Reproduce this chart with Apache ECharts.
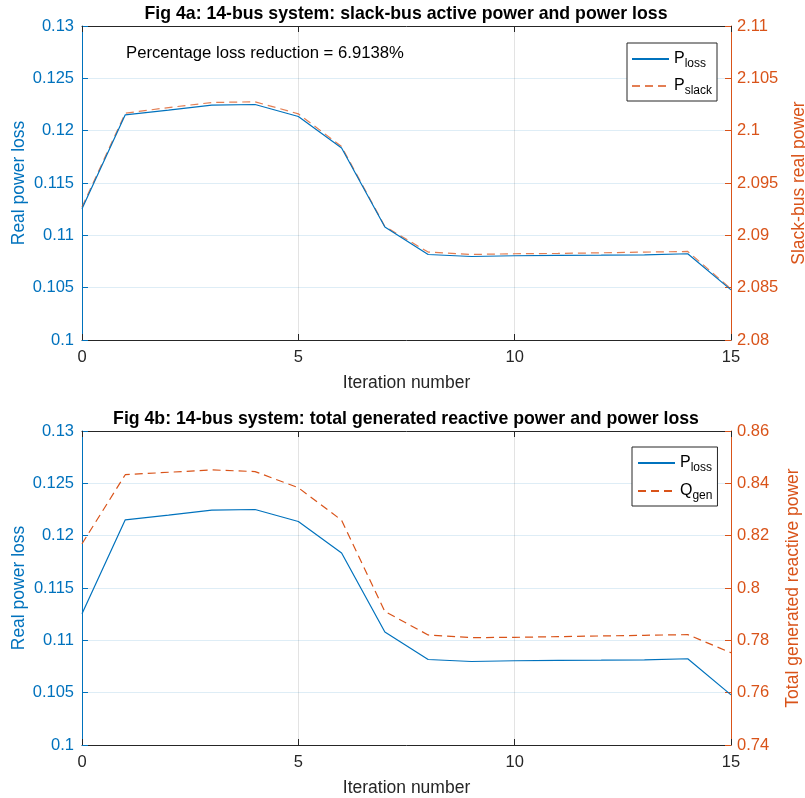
<!DOCTYPE html>
<html><head><meta charset="utf-8">
<script src="https://cdn.jsdelivr.net/npm/echarts@6/dist/echarts.min.js"></script>
<style>html,body{margin:0;padding:0;background:#fff}#c{width:805px;height:798px}</style>
</head><body><div id="c"></div>
<script>
const iterations = [0,1,2,3,4,5,6,7,8,9,10,11,12,13,14,15];
const pLoss = [0.11255,0.12151,0.12196,0.12244,0.12250,0.12135,0.11835,0.11079,0.10817,0.10798,0.10805,0.10808,0.10810,0.10814,0.10824,0.10479];
const pSlack = [2.09270,2.10167,2.10221,2.10269,2.10276,2.10161,2.09848,2.09085,2.08840,2.08817,2.08824,2.08827,2.08833,2.08840,2.08846,2.08489];
const qGen = [0.8169,0.8433,0.84423,0.84513,0.84449,0.83833,0.82590,0.79103,0.78205,0.78103,0.78115,0.78141,0.78167,0.78192,0.78218,0.77526];
const xTicks = [0,5,10,15];
const leftTicks = [0.1,0.105,0.11,0.115,0.12,0.125,0.13];
const rightTopTicks = [2.08,2.085,2.09,2.095,2.1,2.105,2.11];
const rightBotTicks = [0.74,0.76,0.78,0.8,0.82,0.84,0.86];

const BLUE = '#0072BD', ORANGE = '#D95319', DARK = '#262626';
const FONT = 'Liberation Sans, Arial, sans-serif';
const pairs = (ys) => iterations.map((x,i)=>[x, ys[i]]);
const fmt = v => String(+v.toFixed(4));

const grids = [
  {left:82, top:26, width:649, height:314, outerBoundsMode:'none', containLabel:false},
  {left:82, top:431, width:649, height:314, outerBoundsMode:'none', containLabel:false}
];

function xAx(g, top) {
  return {
    type:'value', gridIndex:g, min:xTicks[0], max:xTicks[xTicks.length-1], interval:5,
    position: top ? 'top' : 'bottom',
    name: top ? '' : 'Iteration number', nameLocation:'middle', nameGap:34, nameMoveOverlap:false,
    nameTextStyle:{color:DARK, fontSize:17.5, fontFamily:FONT},
    axisLine:{show:true, onZero:false, lineStyle:{color:DARK, width:1}},
    axisTick:{show:true, inside:true, length:6, lineStyle:{color:DARK}},
    axisLabel:{show:!top, color:DARK, fontSize:16.5, fontFamily:FONT, margin:9},
    splitLine:{show:!top, lineStyle:{color:'rgba(38,38,38,0.13)', width:1}}
  };
}
function yAx(g, right, ticks, name, color, split, gap) {
  const iv = +(ticks[1]-ticks[0]).toFixed(4);
  return {
    type:'value', gridIndex:g, min:ticks[0], max:ticks[ticks.length-1], interval:iv,
    position: right ? 'right' : 'left',
    name:name, nameLocation:'middle', nameGap: gap, nameMoveOverlap:false,
    nameTextStyle:{color:color, fontSize:17.5, fontFamily:FONT},
    axisLine:{show:true, onZero:false, lineStyle:{color:color, width:1}},
    axisTick:{show:true, inside:true, length:6, lineStyle:{color:color}},
    axisLabel:{color:color, fontSize:16.5, fontFamily:FONT, margin: right ? 6 : 8, formatter:fmt},
    splitLine:{show:split, lineStyle:{color:'rgba(0,114,189,0.13)', width:1}}
  };
}

const rich = {
  p:{fontSize:16, fontFamily:FONT, color:'#000', lineHeight:18},
  s:{fontSize:12, fontFamily:FONT, color:'#000', padding:[10,0,0,0], lineHeight:18}
};
const subName = {Ploss:'{p|P}{s|loss}', Pslack:'{p|P}{s|slack}', Qgen:'{p|Q}{s|gen}'};

const option = {
  animation:false,
  backgroundColor:'#fff',
  title:[
    {text:'Fig 4a: 14-bus system: slack-bus active power and power loss', left:406, textAlign:'center', top:5, padding:0,
     textStyle:{fontSize:17.7, fontWeight:'bold', color:'#000', fontFamily:FONT}},
    {text:'Fig 4b: 14-bus system: total generated reactive power and power loss', left:406, textAlign:'center', top:410, padding:0,
     textStyle:{fontSize:17.7, fontWeight:'bold', color:'#000', fontFamily:FONT}},
    {text:'Percentage loss reduction = 6.9138%', left:126, top:45, padding:0,
     textStyle:{fontSize:16.7, fontWeight:'normal', color:'#000', fontFamily:FONT}}
  ],
  grid:grids,
  legend:[
    {data:['Ploss','Pslack'], orient:'vertical', left:627, top:43,
     borderColor:DARK, borderWidth:1, padding:[5,5,4,4], itemGap:5, itemWidth:37, itemHeight:14,
     itemStyle:{opacity:0}, formatter:n=>subName[n], textStyle:{rich:rich}, backgroundColor:'#fff'},
    {data:[{name:'Ploss2'},{name:'Qgen'}], orient:'vertical', left:632, top:447,
     borderColor:DARK, borderWidth:1, padding:[5,5,4,5], itemGap:6, itemWidth:37, itemHeight:14,
     itemStyle:{opacity:0}, formatter:n=>n==='Ploss2'?subName.Ploss:subName[n], textStyle:{rich:rich}, backgroundColor:'#fff'}
  ],
  xAxis:[xAx(0,false), xAx(0,true), xAx(1,false), xAx(1,true)],
  yAxis:[
    yAx(0,false,leftTicks,'Real power loss',BLUE,true,54),
    yAx(0,true,rightTopTicks,'Slack-bus real power',ORANGE,false,59),
    yAx(1,false,leftTicks,'Real power loss',BLUE,true,54),
    yAx(1,true,rightBotTicks,'Total generated reactive power',ORANGE,false,53)
  ],
  series:[
    {name:'Ploss', type:'line', xAxisIndex:0, yAxisIndex:0, data:pairs(pLoss), symbol:'none',
     lineStyle:{color:BLUE, width:1.2}, itemStyle:{color:BLUE}, z:3},
    {name:'Pslack', type:'line', xAxisIndex:0, yAxisIndex:1, data:pairs(pSlack), symbol:'none',
     lineStyle:{color:ORANGE, width:1.2, type:[8,5], opacity:0.75}, itemStyle:{color:ORANGE}, z:2},
    {name:'Ploss2', type:'line', xAxisIndex:2, yAxisIndex:2, data:pairs(pLoss), symbol:'none',
     lineStyle:{color:BLUE, width:1.2}, itemStyle:{color:BLUE}},
    {name:'Qgen', type:'line', xAxisIndex:2, yAxisIndex:3, data:pairs(qGen), symbol:'none',
     lineStyle:{color:ORANGE, width:1.2, type:[8,5]}, itemStyle:{color:ORANGE}}
  ]
};
const chart = echarts.init(document.getElementById('c'), null, {renderer:'canvas'});
chart.setOption(option);
</script></body></html>
